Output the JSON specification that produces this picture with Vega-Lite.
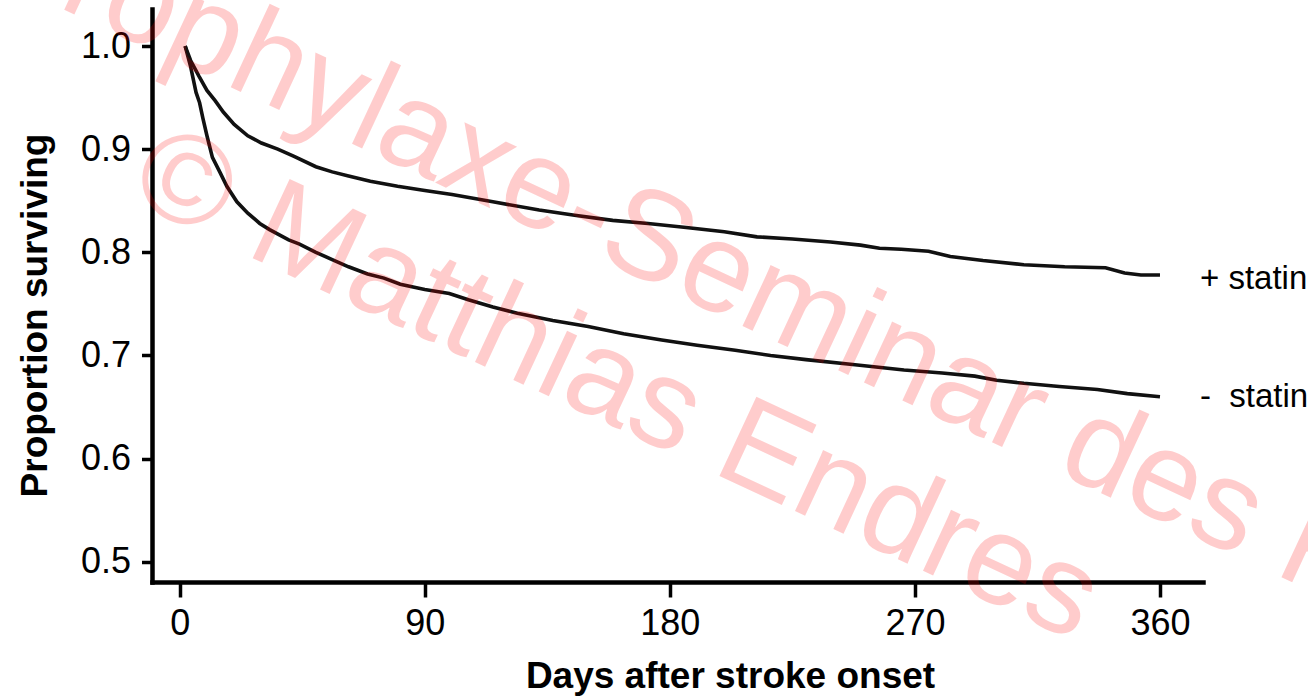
{
  "$schema": "https://vega.github.io/schema/vega-lite/v6.json",
  "width": 1051,
  "height": 573,
  "autosize": {"type": "none"},
  "padding": {"left": 152, "top": 9, "right": 105, "bottom": 118},
  "background": "white",
  "config": {"view": {"stroke": null}, "font": "Liberation Sans"},
  "datasets": {
    "curves": [
      {"group": "+ statin", "day": 2, "proportion": 1.0},
      {"group": "+ statin", "day": 4, "proportion": 0.986},
      {"group": "+ statin", "day": 7, "proportion": 0.971},
      {"group": "+ statin", "day": 10, "proportion": 0.957},
      {"group": "+ statin", "day": 13, "proportion": 0.947},
      {"group": "+ statin", "day": 16, "proportion": 0.936},
      {"group": "+ statin", "day": 20, "proportion": 0.924},
      {"group": "+ statin", "day": 25, "proportion": 0.913},
      {"group": "+ statin", "day": 30, "proportion": 0.906},
      {"group": "+ statin", "day": 36, "proportion": 0.900},
      {"group": "+ statin", "day": 42, "proportion": 0.893},
      {"group": "+ statin", "day": 50, "proportion": 0.883},
      {"group": "+ statin", "day": 56, "proportion": 0.878},
      {"group": "+ statin", "day": 62, "proportion": 0.874},
      {"group": "+ statin", "day": 70, "proportion": 0.869},
      {"group": "+ statin", "day": 80, "proportion": 0.864},
      {"group": "+ statin", "day": 90, "proportion": 0.860},
      {"group": "+ statin", "day": 100, "proportion": 0.856},
      {"group": "+ statin", "day": 115, "proportion": 0.849},
      {"group": "+ statin", "day": 132, "proportion": 0.841},
      {"group": "+ statin", "day": 145, "proportion": 0.836},
      {"group": "+ statin", "day": 159, "proportion": 0.831},
      {"group": "+ statin", "day": 172, "proportion": 0.828},
      {"group": "+ statin", "day": 186, "proportion": 0.824},
      {"group": "+ statin", "day": 200, "proportion": 0.820},
      {"group": "+ statin", "day": 212, "proportion": 0.815},
      {"group": "+ statin", "day": 225, "proportion": 0.813},
      {"group": "+ statin", "day": 239, "proportion": 0.810},
      {"group": "+ statin", "day": 250, "proportion": 0.807},
      {"group": "+ statin", "day": 257, "proportion": 0.804},
      {"group": "+ statin", "day": 265, "proportion": 0.803},
      {"group": "+ statin", "day": 275, "proportion": 0.801},
      {"group": "+ statin", "day": 283, "proportion": 0.796},
      {"group": "+ statin", "day": 295, "proportion": 0.792},
      {"group": "+ statin", "day": 310, "proportion": 0.788},
      {"group": "+ statin", "day": 325, "proportion": 0.786},
      {"group": "+ statin", "day": 340, "proportion": 0.785},
      {"group": "+ statin", "day": 347, "proportion": 0.780},
      {"group": "+ statin", "day": 353, "proportion": 0.778},
      {"group": "+ statin", "day": 360, "proportion": 0.778},
      {"group": "- statin", "day": 2, "proportion": 1.0},
      {"group": "- statin", "day": 4, "proportion": 0.980},
      {"group": "- statin", "day": 6, "proportion": 0.955},
      {"group": "- statin", "day": 7.3, "proportion": 0.945},
      {"group": "- statin", "day": 8.5, "proportion": 0.930},
      {"group": "- statin", "day": 10, "proportion": 0.913},
      {"group": "- statin", "day": 12, "proportion": 0.892},
      {"group": "- statin", "day": 14.7, "proportion": 0.878},
      {"group": "- statin", "day": 17.3, "proportion": 0.864},
      {"group": "- statin", "day": 21, "proportion": 0.849},
      {"group": "- statin", "day": 25, "proportion": 0.838},
      {"group": "- statin", "day": 29.4, "proportion": 0.828},
      {"group": "- statin", "day": 33, "proportion": 0.822},
      {"group": "- statin", "day": 40, "proportion": 0.812},
      {"group": "- statin", "day": 44, "proportion": 0.808},
      {"group": "- statin", "day": 50, "proportion": 0.800},
      {"group": "- statin", "day": 56, "proportion": 0.793},
      {"group": "- statin", "day": 62, "proportion": 0.786},
      {"group": "- statin", "day": 69, "proportion": 0.779},
      {"group": "- statin", "day": 75, "proportion": 0.775},
      {"group": "- statin", "day": 81, "proportion": 0.769},
      {"group": "- statin", "day": 90, "proportion": 0.764},
      {"group": "- statin", "day": 99, "proportion": 0.760},
      {"group": "- statin", "day": 106, "proportion": 0.754},
      {"group": "- statin", "day": 115, "proportion": 0.747},
      {"group": "- statin", "day": 124, "proportion": 0.741},
      {"group": "- statin", "day": 137, "proportion": 0.734},
      {"group": "- statin", "day": 150, "proportion": 0.728},
      {"group": "- statin", "day": 163, "proportion": 0.721},
      {"group": "- statin", "day": 177, "proportion": 0.715},
      {"group": "- statin", "day": 190, "proportion": 0.710},
      {"group": "- statin", "day": 204, "proportion": 0.705},
      {"group": "- statin", "day": 217, "proportion": 0.700},
      {"group": "- statin", "day": 230, "proportion": 0.696},
      {"group": "- statin", "day": 248, "proportion": 0.691},
      {"group": "- statin", "day": 266, "proportion": 0.686},
      {"group": "- statin", "day": 280, "proportion": 0.683},
      {"group": "- statin", "day": 292, "proportion": 0.680},
      {"group": "- statin", "day": 300, "proportion": 0.676},
      {"group": "- statin", "day": 310, "proportion": 0.673},
      {"group": "- statin", "day": 323, "proportion": 0.670},
      {"group": "- statin", "day": 337, "proportion": 0.667},
      {"group": "- statin", "day": 348, "proportion": 0.663},
      {"group": "- statin", "day": 360, "proportion": 0.660}
    ],
    "labels": [
      {"label": "+ statin", "day": 360, "proportion": 0.774},
      {"label": "-\u00a0\u00a0statin", "day": 360, "proportion": 0.660}
    ],
    "watermark": [
      {"text": "Prophylaxe-Seminar des K", "day": -73.5, "proportion": 1.0736},
      {"text": "© Matthias Endres", "day": -19.6, "proportion": 0.8514}
    ]
  },
  "encoding": {
    "x": {
      "field": "day",
      "type": "quantitative",
      "scale": {"domain": [-10.18, 375.8], "nice": false, "zero": false},
      "axis": {
        "values": [0, 90, 180, 270, 360],
        "title": "Days after stroke onset",
        "grid": false,
        "domainColor": "#000",
        "domainWidth": 4.5,
        "domainCap": "square",
        "tickColor": "#000",
        "tickWidth": 3.5,
        "tickSize": 15,
        "labelFont": "Liberation Sans",
        "labelFontSize": 36,
        "labelColor": "#000",
        "labelPadding": 9,
        "labelFlush": false,
        "labelOverlap": false,
        "titleFont": "Liberation Sans",
        "titleFontSize": 37,
        "titleFontWeight": "bold",
        "titleColor": "#000",
        "titleAlign": "center",
        "titleBaseline": "alphabetic",
        "titleX": 578,
        "titleY": 105
      }
    },
    "y": {
      "field": "proportion",
      "type": "quantitative",
      "scale": {"domain": [0.4804, 1.0359], "nice": false, "zero": false},
      "axis": {
        "values": [0.5, 0.6, 0.7, 0.8, 0.9, 1.0],
        "format": ".1f",
        "title": "Proportion surviving",
        "grid": false,
        "domainColor": "#000",
        "domainWidth": 4.5,
        "domainCap": "square",
        "tickColor": "#000",
        "tickWidth": 3.5,
        "tickSize": 10.5,
        "labelFont": "Liberation Sans",
        "labelFontSize": 36,
        "labelColor": "#000",
        "labelPadding": 11,
        "labelFlush": false,
        "labelOverlap": false,
        "titleFont": "Liberation Sans",
        "titleFontSize": 37,
        "titleFontWeight": "bold",
        "titleColor": "#000",
        "titleAngle": 270,
        "titleAlign": "center",
        "titleBaseline": "alphabetic",
        "titleX": -106,
        "titleY": 306
      }
    }
  },
  "layer": [
    {
      "data": {"name": "curves"},
      "mark": {"type": "line", "color": "#111", "strokeWidth": 3.6, "interpolate": "linear"},
      "encoding": {"detail": {"field": "group"}}
    },
    {
      "data": {"name": "labels"},
      "mark": {"type": "text", "align": "left", "baseline": "middle", "dx": 40, "fontSize": 33, "font": "Liberation Sans", "color": "#000"},
      "encoding": {"text": {"field": "label"}}
    },
    {
      "data": {"name": "watermark"},
      "mark": {"type": "text", "align": "left", "baseline": "alphabetic", "angle": 25, "fontSize": 127, "font": "Liberation Sans", "fill": "#ff0000", "fillOpacity": 0.2},
      "encoding": {"text": {"field": "text"}}
    }
  ]
}
